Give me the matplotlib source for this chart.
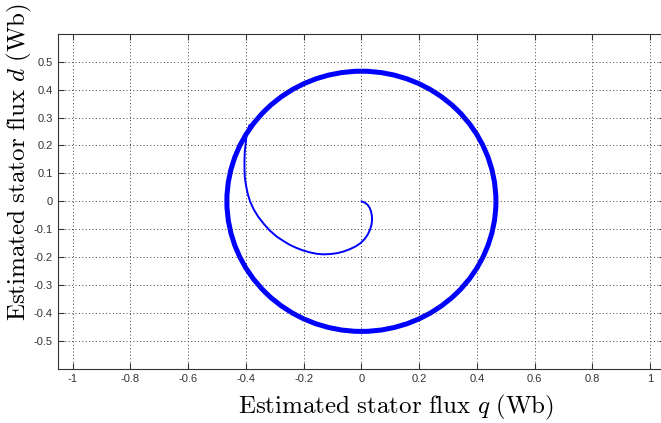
import numpy as np
import matplotlib
matplotlib.use("Agg")
import matplotlib.pyplot as plt
import matplotlib.patches as mpatches

# steady-state flux circle (centre and radius, Wb)
circle_center = (0.0, 0.0)
circle_radius = 0.466

# start-up trajectory of the estimated flux
spiral_q = [0.0, 0.012, 0.021, 0.028, 0.033, 0.036, 0.037, 0.035, 0.030, 0.022,
            0.012, -0.002, -0.019, -0.039, -0.062, -0.085, -0.109, -0.132, -0.155,
            -0.178, -0.202, -0.225, -0.248, -0.272, -0.295, -0.318, -0.338, -0.357,
            -0.373, -0.386, -0.394, -0.400, -0.404, -0.405, -0.405, -0.404, -0.401,
            -0.398, -0.393, -0.388]
spiral_d = [0.0, -0.005, -0.012, -0.022, -0.035, -0.050, -0.066, -0.084, -0.101, -0.119,
            -0.134, -0.149, -0.161, -0.171, -0.180, -0.186, -0.189, -0.190, -0.188,
            -0.183, -0.176, -0.167, -0.156, -0.141, -0.125, -0.104, -0.081, -0.056,
            -0.029, 0.000, 0.028, 0.058, 0.087, 0.117, 0.147, 0.177, 0.207,
            0.235, 0.255, 0.273]

xticks = [-1, -0.8, -0.6, -0.4, -0.2, 0, 0.2, 0.4, 0.6, 0.8, 1]
yticks = [-0.5, -0.4, -0.3, -0.2, -0.1, 0, 0.1, 0.2, 0.3, 0.4, 0.5]

plt.rcParams['mathtext.fontset'] = 'cm'

fig = plt.figure(figsize=(6.61, 4.23), dpi=100)
ax = fig.add_axes([0.0882, 0.1281, 0.9171, 0.792])

circ = mpatches.Circle(circle_center, circle_radius, fill=False, edgecolor=(0, 0, 1),
                       linewidth=3.6)
ax.add_patch(circ)
ax.plot(spiral_q, spiral_d, color=(0, 0, 1), linewidth=1.4,
        solid_capstyle='round', solid_joinstyle='round')

ax.set_xlim([-1.05, 1.05])
ax.set_ylim([-0.6, 0.6])
ax.set_xticks(xticks)
ax.set_yticks(yticks)
ax.set_xticklabels(["%g" % v if v != 0 else "0" for v in xticks])
ax.set_yticklabels(["%g" % v if v != 0 else "0" for v in yticks])
ax.grid(True, color='0.25', linestyle=(0, (1, 2.5)), linewidth=0.7)

ax.tick_params(direction='in', length=4.5, width=0.8, top=True, right=True,
               labelsize=8, colors='0.2', pad=4)
for lab in ax.get_xticklabels() + ax.get_yticklabels():
    lab.set_fontfamily('Liberation Sans')
for sp in ax.spines.values():
    sp.set_color('0.2')
    sp.set_linewidth(0.8)
ax.spines['right'].set_visible(False)

fig.text(395.8 / 661, 1 - 413 / 423, r"$\mathrm{Estimated\ stator\ flux}\ q\ \mathrm{(Wb)}$",
         ha='center', va='baseline', fontsize=18)
fig.text(19 / 661, 1 - 162 / 423, r"$\mathrm{Estimated\ stator\ flux}\ d\ \mathrm{(Wb)}$",
         ha='center', va='center', rotation=90, fontsize=18)

fig.savefig("out.png", dpi=100)
plt.close()
